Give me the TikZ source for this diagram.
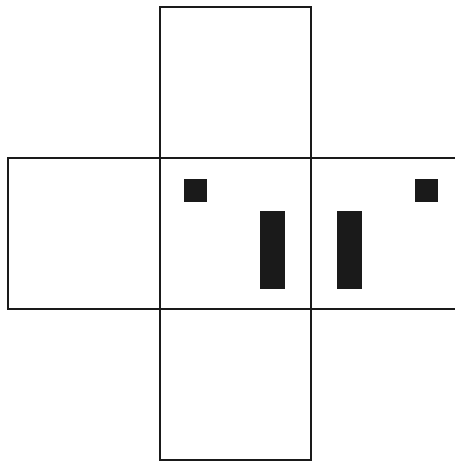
\documentclass[tikz,border=0pt]{standalone}
\definecolor{ink}{HTML}{1A1A1A}

\begin{document}
\begin{tikzpicture}[x=1pt, y=1pt, line join=miter]
    % Page frame (455 x 461 px)
    \useasboundingbox (0,0) rectangle (455,461);
    \clip (0,0) rectangle (455,461);

    % Grid corners of the cross
    \coordinate (L) at (8,152);     % left face, lower left
    \coordinate (C) at (160,152);   % centre face, lower left
    \coordinate (R) at (311,152);   % right face, lower left
    \coordinate (T) at (160,303);   % top face, lower left
    \coordinate (B) at (160,1);     % bottom face, lower left

    % Faces
    \draw[ink, line width=2pt] (L) rectangle ++(152,151);
    \draw[ink, line width=2pt] (C) rectangle ++(151,151);
    \draw[ink, line width=2pt] (R) rectangle ++(151,151);
    \draw[ink, line width=2pt] (T) rectangle ++(151,151);
    \draw[ink, line width=2pt] (B) rectangle ++(151,151);

    % Marks on the centre face
    \fill[ink] (184,259) rectangle (207,282);
    \fill[ink] (260,172) rectangle (285,250);

    % Marks on the right face
    \fill[ink] (337,172) rectangle (362,250);
    \fill[ink] (415,259) rectangle (438,282);
\end{tikzpicture}
\end{document}
